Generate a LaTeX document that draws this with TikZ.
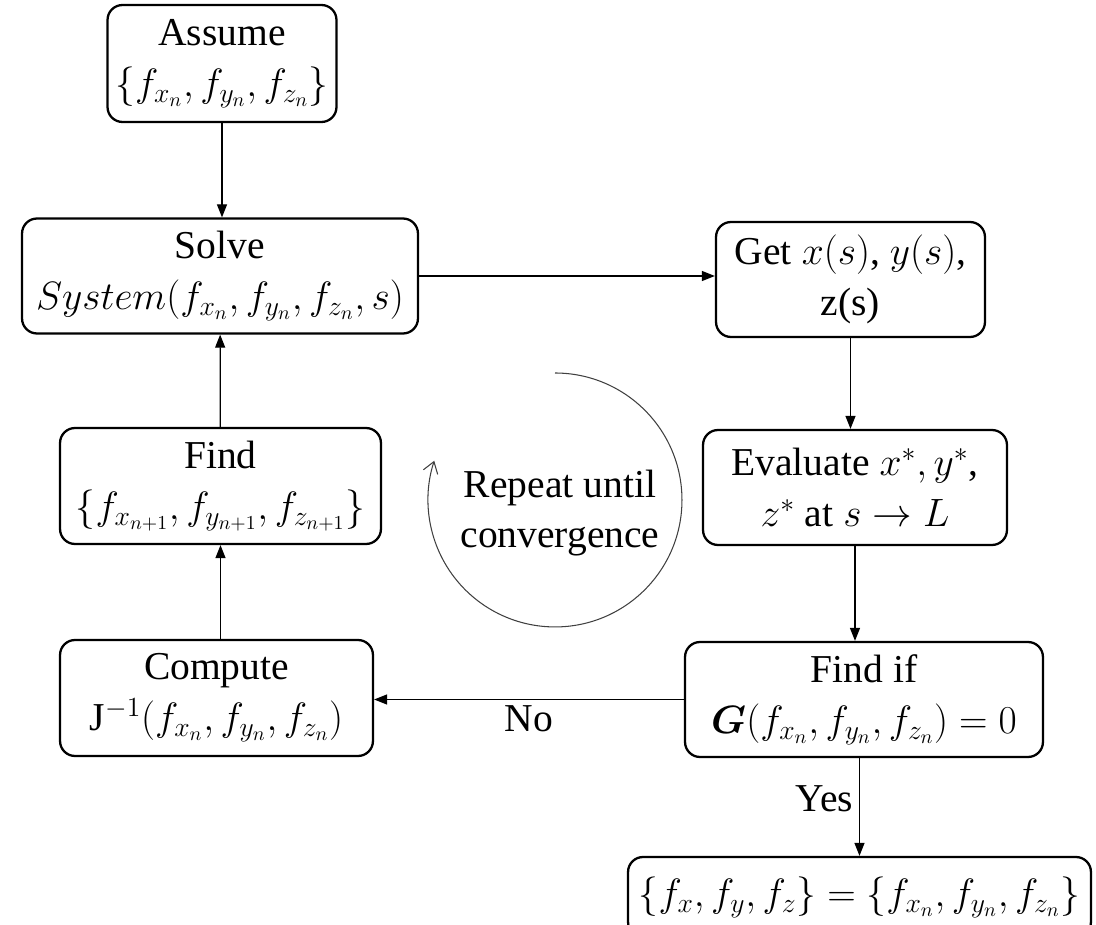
\RequirePackage{fix-cm}
\documentclass[tikz,border=0pt]{standalone}
\usepackage{amsmath,amssymb}
\usepackage{fontspec}
\setmainfont{Liberation Serif}
\usepackage{tikz}
\usetikzlibrary{arrows.meta}

\begin{document}
\begin{tikzpicture}[x=0.02cm, y=0.02cm,
  stepbox/.style={draw, line width=1.3pt, rounded corners=0.3cm, align=center,
    inner sep=2pt, font=\fontsize{22.5}{29}\selectfont},
  arr/.style={-{Triangle[length=2.6mm,width=2mm]}, line width=0.7pt},
  lbl/.style={font=\fontsize{22.5}{28.5}\selectfont}]
  % Page frame
  \useasboundingbox (0,0) rectangle (1096,-925);
  \clip (0,0) rectangle (1096,-925);

  % Left column
  \node[stepbox, minimum width=4.58cm, minimum height=2.34cm] (assume) at (222,-63.5)
    {Assume\\ $\{f_{x_n},f_{y_n},f_{z_n}\}$};
  \node[stepbox, minimum width=7.92cm, minimum height=2.30cm] (solve) at (220,-276)
    {Solve\\ $System(f_{x_n},f_{y_n},f_{z_n},s)$};
  \node[stepbox, minimum width=6.42cm, minimum height=2.32cm] (find) at (220.5,-486)
    {Find\\ $\{f_{x_{n+1}},f_{y_{n+1}},f_{z_{n+1}}\}$};
  \node[stepbox, minimum width=6.26cm, minimum height=2.32cm] (compute) at (216.5,-698)
    {Compute\\ $\mathrm{J}^{-1}(f_{x_n},f_{y_n},f_{z_n})$};

  % Right column
  \node[stepbox, minimum width=5.38cm, minimum height=2.30cm] (get) at (850.5,-279.5)
    {Get $x(s)$, $y(s)$,\\ z(s)};
  \node[stepbox, minimum width=6.08cm, minimum height=2.30cm] (evaluate) at (855,-487.5)
    {Evaluate $x^{*},y^{*}$,\\ $z^{*}$ at $s\rightarrow L$};
  \node[stepbox, minimum width=7.16cm, minimum height=2.30cm] (findif) at (864,-699.5)
    {Find if\\ $\boldsymbol{G}(f_{x_n},f_{y_n},f_{z_n})=0$};
  \node[stepbox, minimum width=9.26cm, minimum height=1.60cm] (final) at (859.5,-897)
    {$\{f_x,f_y,f_z\}=\{f_{x_n},f_{y_n},f_{z_n}\}$};

  % Loop in the middle
  \node[lbl, align=center] (repeat) at (560,-513) {Repeat until\\convergence};
  \draw[black!75, line width=0.6pt, -{Straight Barb[length=2.2mm,width=3mm]}]
    (555,-373) arc[start angle=90, end angle=-198, radius=2.54cm];

  % Connectors
  \draw[arr] (assume.south) -- (assume.south |- solve.north);
  \draw[arr] (solve.east) -- (solve.east -| get.west);
  \draw[arr] (get.south) -- (get.south |- evaluate.north);
  \draw[arr] (evaluate.south) -- (evaluate.south |- findif.north);
  \draw[arr] (findif.west) -- node[below, lbl] {No} (findif.west -| compute.east);
  \draw[arr] (find.south |- compute.north) -- (find.south);
  \draw[arr] (find) -- (solve);
  \draw[arr] (final.north |- findif.south) -- node[left, lbl, pos=0.42] {Yes} (final.north);
\end{tikzpicture}
\end{document}
